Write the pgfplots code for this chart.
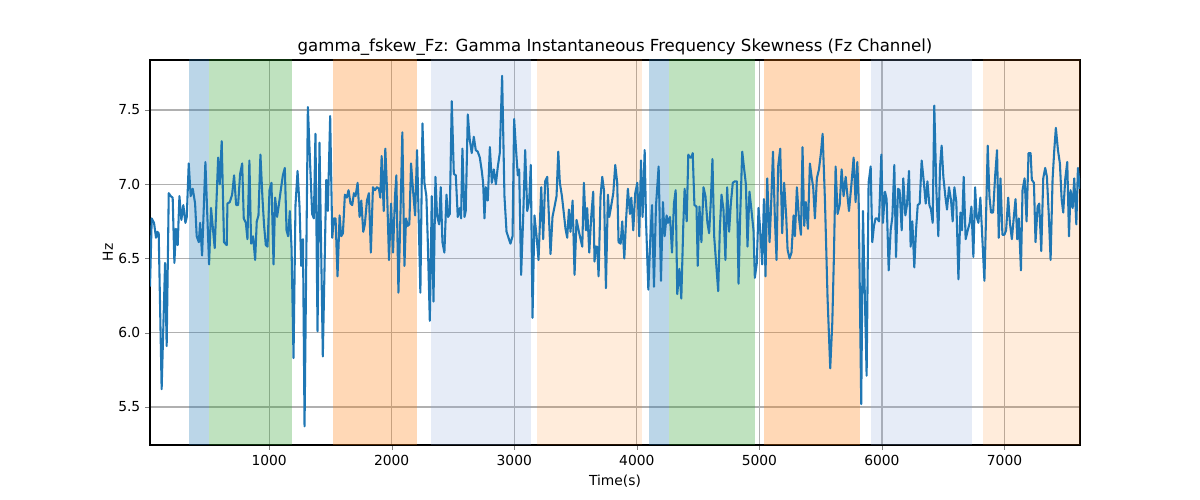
\documentclass[border=0pt]{standalone}
\usepackage{pgfplots}
\pgfplotsset{compat=1.18}
\usepackage{fontspec}
\setmainfont{DejaVu Sans}
\definecolor{tabblue}{RGB}{31,119,180}
\definecolor{tabgreen}{RGB}{44,160,44}
\definecolor{taborange}{RGB}{255,127,14}
\definecolor{lightband}{RGB}{140,170,220}
\begin{document}
\begin{tikzpicture}
\path[use as bounding box] (0,0) rectangle (12in,5in);
\begin{axis}[
  at={(1.5in,0.55in)}, anchor=south west,
  scale only axis, width=9.3in, height=3.85in,
  xmin=28, xmax=7616, ymin=5.244, ymax=7.837,
  xtick={1000,2000,3000,4000,5000,6000,7000},
  ytick={5.5,6.0,6.5,7.0,7.5},
  yticklabel style={/pgf/number format/.cd, fixed, fixed zerofill, precision=1},
  xticklabel style={/pgf/number format/1000 sep={}},
  /pgf/number format/assume math mode=true,
  tick label style={font=\fontsize{10}{12}\selectfont},
  tick align=outside, major tick length=3.5pt,
  xtick pos=bottom, ytick pos=left,
  grid=major, major grid style={color=black!31, line width=0.8pt},
  title={gamma\_fskew\_Fz: Gamma Instantaneous Frequency Skewness (Fz Channel)},
  title style={font=\fontsize{12}{14}\selectfont, yshift=-6pt},
  xlabel={Time(s)}, ylabel={Hz},
  label style={font=\fontsize{10}{12}\selectfont},
  xlabel style={yshift=0pt}, ylabel style={yshift=-3pt},
  axis line style={line width=0.8pt},
]
\addplot[fill=tabblue, fill opacity=0.3, draw=none] coordinates {(344,5) (344,8) (507,8) (507,5)} -- cycle;
\addplot[fill=tabgreen, fill opacity=0.3, draw=none] coordinates {(507,5) (507,8) (1185,8) (1185,5)} -- cycle;
\addplot[fill=taborange, fill opacity=0.3, draw=none] coordinates {(1520,5) (1520,8) (2207,8) (2207,5)} -- cycle;
\addplot[fill=lightband, fill opacity=0.22, draw=none] coordinates {(2321,5) (2321,8) (3138,8) (3138,5)} -- cycle;
\addplot[fill=taborange, fill opacity=0.15, draw=none] coordinates {(3187,5) (3187,8) (4045,8) (4045,5)} -- cycle;
\addplot[fill=tabblue, fill opacity=0.3, draw=none] coordinates {(4102,5) (4102,8) (4265,8) (4265,5)} -- cycle;
\addplot[fill=tabgreen, fill opacity=0.3, draw=none] coordinates {(4265,5) (4265,8) (4968,8) (4968,5)} -- cycle;
\addplot[fill=taborange, fill opacity=0.3, draw=none] coordinates {(5034,5) (5034,8) (5819,8) (5819,5)} -- cycle;
\addplot[fill=lightband, fill opacity=0.22, draw=none] coordinates {(5909,5) (5909,8) (6734,8) (6734,5)} -- cycle;
\addplot[fill=taborange, fill opacity=0.15, draw=none] coordinates {(6824,5) (6824,8) (7700,8) (7700,5)} -- cycle;
\addplot[color=tabblue, line width=1.5pt, line join=round] coordinates {
(28,6.31) (42,6.77) (61,6.74) (77,6.64) (88,6.68) (99,6.67) (123,5.62) (151,6.47) (164,5.91) (181,6.94)
(197,6.92) (213,6.91) (227,6.47) (240,6.70) (254,6.59) (268,6.92) (284,6.76) (300,6.86) (317,6.74) (328,6.78)
(344,7.14) (360,6.92) (377,6.97) (396,6.87) (409,6.65) (426,6.61) (437,6.74) (453,6.52) (480,7.15) (510,6.46)
(526,6.84) (556,6.57) (584,7.18) (597,7.00) (613,7.29) (632,6.61) (654,6.59)
(660,6.87) (679,6.88) (698,6.93) (714,7.06) (731,6.86) (747,6.86) (763,7.07) (780,7.14) (793,6.77) (810,6.74)
(823,6.63) (839,7.16) (853,6.60) (869,6.65) (886,6.49) (899,6.75) (913,6.79) (929,7.20) (946,6.90) (959,6.72)
(973,6.59) (987,6.58) (1003,6.96) (1019,7.01) (1036,6.46) (1049,6.91) (1065,6.78) (1079,6.86) (1095,6.96) (1112,7.06)
(1128,7.11) (1142,6.69) (1155,6.65) (1169,6.82) (1183,6.57) (1199,5.83) (1215,6.86) (1232,7.09) (1248,6.85) (1262,6.45)
(1276,6.63) (1289,5.37) (1316,7.52) (1351,6.80) (1365,6.77) (1378,7.34) (1395,6.01) (1411,7.28) (1438,5.84) (1466,7.03)
(1479,6.82) (1498,7.46) (1515,6.64) (1528,6.77) (1542,6.77) (1558,6.38) (1575,6.79) (1588,6.65) (1602,6.67) (1618,6.93)
(1634,6.91) (1648,6.96) (1664,6.87) (1678,6.86) (1692,6.94) (1705,6.92) (1722,7.01) (1738,6.78) (1752,6.89) (1768,6.68)
(1781,6.73) (1798,6.89) (1814,6.94) (1830,6.54) (1847,6.98) (1863,6.96) (1880,6.98) (1896,6.97) (1907,6.91) (1918,7.19)
(1935,6.82) (1948,7.24) (1962,6.96) (1978,6.49) (1995,6.87) (2011,6.54) (2027,6.92) (2038,7.06) (2055,6.27) (2071,6.78)
(2087,7.35) (2104,6.45) (2117,6.77) (2131,6.72) (2144,6.73) (2158,7.14) (2174,6.96) (2191,6.79) (2207,7.23) (2221,6.74)
(2234,6.27) (2251,7.41) (2267,7.01) (2283,6.92) (2294,6.63) (2311,6.08) (2327,6.92) (2341,6.21) (2357,7.05) (2370,6.79)
(2387,6.73) (2400,6.98) (2414,6.61) (2430,6.54) (2447,6.93) (2460,6.78) (2474,6.80) (2490,7.56) (2507,7.07) (2523,7.06)
(2539,6.78) (2556,6.84) (2566,6.77) (2577,7.24) (2594,6.78) (2604,6.82) (2621,7.47) (2637,7.30) (2653,7.21) (2670,7.32)
(2686,7.23) (2702,7.22) (2719,7.18) (2735,7.09) (2746,7.01) (2757,6.77) (2768,6.98) (2784,6.89) (2801,7.25) (2817,7.01)
(2833,7.10) (2850,7.00) (2866,7.12) (2882,7.21) (2901,7.73) (2920,6.92) (2937,6.68) (2953,6.64) (2969,6.60) (2986,6.65)
(2999,7.44) (3018,7.19) (3029,7.06) (3040,7.10) (3056,6.39) (3073,6.78) (3089,7.23) (3106,6.82) (3122,6.89) (3135,7.13)
(3149,6.10) (3165,6.79) (3182,6.65) (3198,6.49) (3203,6.60) (3220,6.98) (3236,6.63) (3252,7.02) (3269,7.05) (3285,6.74)
(3296,6.53) (3312,6.78) (3329,6.85) (3345,6.92) (3359,7.22) (3372,7.01) (3389,6.92) (3405,6.80) (3418,6.70) (3432,6.64)
(3446,6.83) (3459,6.68) (3476,6.89) (3492,6.39) (3508,6.76) (3525,6.69) (3541,6.63) (3555,6.58) (3568,7.01) (3585,6.69)
(3595,6.84) (3612,6.54) (3628,6.78) (3644,6.95) (3655,6.48) (3666,6.58) (3677,6.58) (3688,6.38) (3704,6.92) (3718,7.05)
(3732,6.96) (3748,6.30) (3764,6.93) (3775,6.78) (3786,6.83) (3808,6.94) (3824,7.13) (3840,7.01) (3851,6.61) (3868,6.60)
(3881,6.75) (3898,6.50) (3911,6.74) (3927,6.97) (3944,6.80) (3955,6.91) (3971,6.69) (3987,6.94) (4004,7.01) (4020,6.65)
(4034,7.16) (4047,6.78) (4064,7.23) (4075,6.76) (4094,6.29) (4110,6.63) (4124,6.86) (4140,6.31) (4156,6.85) (4178,7.12)
(4197,6.35) (4213,6.88) (4227,6.65) (4243,6.79) (4254,6.74) (4271,6.78) (4287,6.54) (4303,6.87) (4317,6.96) (4330,6.26)
(4347,6.43) (4363,6.23) (4379,6.72) (4390,6.97) (4407,6.75) (4420,7.20) (4434,7.18) (4445,7.18) (4456,7.21) (4470,6.86)
(4487,6.85) (4497,6.45) (4511,6.85) (4527,6.61) (4544,6.98) (4560,6.92) (4576,6.74) (4590,6.67) (4604,6.89) (4617,7.17)
(4631,6.65) (4647,6.47) (4664,6.28) (4677,6.69) (4691,6.93) (4707,6.83) (4723,6.49) (4737,6.98) (4753,6.68) (4767,6.87)
(4783,7.01) (4800,7.02) (4816,7.02) (4830,6.33) (4843,6.78) (4860,7.22) (4876,7.10) (4890,7.00) (4903,6.58) (4919,6.95)
(4936,6.82) (4952,6.69) (4963,6.37) (4979,6.47) (4993,6.84) (5007,6.69) (5023,6.46) (5037,6.90) (5050,6.38) (5064,7.04)
(5083,6.61) (5094,6.82) (5111,7.22) (5126,6.78) (5140,6.49) (5153,7.12) (5170,7.24) (5186,6.67) (5202,7.01) (5219,6.78)
(5230,6.56) (5246,6.50) (5262,6.54) (5279,6.79) (5290,6.65) (5306,6.98) (5322,6.78) (5339,6.66) (5352,7.25) (5366,6.72)
(5379,6.88) (5396,6.70) (5412,7.14) (5426,7.05) (5439,6.98) (5453,6.77) (5469,7.04) (5486,7.10) (5502,7.21) (5516,7.34)
(5535,6.89) (5556,6.24) (5578,5.76) (5595,6.07) (5608,6.51) (5622,7.12) (5638,6.80) (5655,6.86) (5671,7.10) (5687,6.92)
(5704,7.05) (5714,6.96) (5731,6.82) (5750,6.99) (5769,7.18) (5785,6.88) (5799,7.15) (5810,6.90) (5831,5.52) (5845,6.82)
(5875,5.71) (5891,7.01) (5908,7.12) (5921,6.61) (5935,6.72) (5948,6.77) (5962,6.77) (5976,6.75) (5995,7.20) (6008,6.74)
(6025,6.95) (6038,6.90) (6055,6.42) (6071,6.69) (6085,6.78) (6101,7.13) (6115,6.51) (6131,6.97) (6144,6.96) (6161,6.69)
(6174,7.04) (6191,6.79) (6204,6.86) (6221,7.09) (6234,6.58) (6248,6.75) (6264,6.44) (6278,6.69) (6292,6.86) (6308,6.87)
(6324,7.16) (6341,7.02) (6357,6.87) (6371,7.02) (6387,6.86) (6400,6.83) (6414,6.74) (6427,7.53) (6444,6.96) (6460,6.65)
(6474,7.12) (6487,7.26) (6501,7.05) (6517,6.92) (6531,6.83) (6547,6.98) (6564,6.89) (6577,6.75) (6591,6.98) (6607,6.88)
(6624,6.36) (6640,6.81) (6653,6.69) (6667,7.05) (6683,6.63) (6700,6.69) (6716,6.74) (6730,6.85) (6746,6.51) (6760,6.98)
(6773,6.78) (6787,6.74) (6803,6.91) (6817,6.67) (6836,6.35) (6850,6.80) (6863,7.26) (6877,6.92) (6890,6.81) (6907,6.81)
(6923,7.05) (6939,7.23) (6953,6.64) (6967,7.04) (6983,6.66) (6999,6.66) (7013,6.69) (7030,6.91) (7044,6.74) (7060,6.63)
(7076,6.78) (7090,6.90) (7104,6.63) (7117,6.77) (7134,6.42) (7147,6.96) (7164,7.04) (7180,6.75) (7196,7.21) (7213,7.21)
(7223,7.03) (7240,7.01) (7253,6.61) (7270,6.85) (7283,6.87) (7300,6.55) (7316,7.04) (7332,7.11) (7346,7.05) (7362,6.78)
(7376,6.49) (7392,7.03) (7406,7.23) (7419,7.38) (7436,7.23) (7452,7.14) (7466,6.90) (7479,6.81) (7496,7.04) (7512,7.15)
(7526,6.65) (7539,6.96) (7556,6.84) (7569,7.04) (7586,6.73) (7599,7.11) (7616,6.97)
};
\end{axis}
\end{tikzpicture}
\end{document}
